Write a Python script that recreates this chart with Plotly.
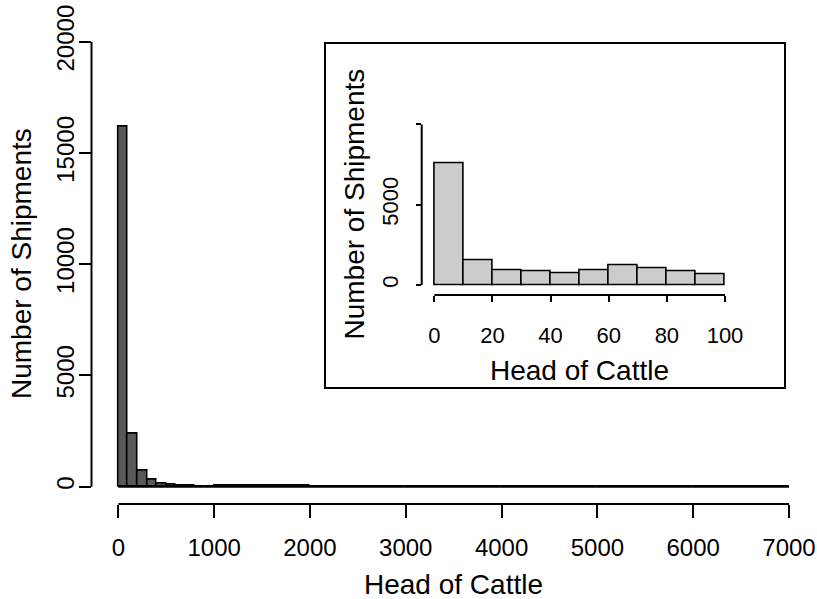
import plotly.graph_objects as go

# ---------------- data ----------------
main_edges = [0, 100, 200, 300, 400, 500, 600, 700, 800, 900, 1000, 2000, 3000, 4000, 5000, 6000, 7000]
main_counts = [16160, 2366, 729, 326, 134, 70, 45, 30, 20, 15, 60, 0, 0, 0, 0, 0]

inset_edges = [0, 10, 20, 30, 40, 50, 60, 70, 80, 90, 100]
inset_counts = [7545, 1550, 887, 825, 725, 887, 1220, 1033, 850, 663]

main_xticks = [0, 1000, 2000, 3000, 4000, 5000, 6000, 7000]
main_xtick_labels = ["0", "1000", "2000", "3000", "4000", "5000", "6000", "7000"]
main_yticks = [0, 5000, 10000, 15000, 20000]
main_ytick_labels = ["0", "5000", "10000", "15000", "20000"]
inset_xticks = [0, 20, 40, 60, 80, 100]
inset_xtick_labels = ["0", "20", "40", "60", "80", "100"]
inset_yticks = [0, 5000, 10000]
inset_ytick_labels = ["0", "5000", ""]

x_title = "Head of Cattle"
y_title = "Number of Shipments"

W, H = 817, 599
FONT = "Liberation Sans, Arial, sans-serif"


def mids(edges):
    return [(a + b) / 2 for a, b in zip(edges[:-1], edges[1:])]


def widths(edges):
    return [b - a for a, b in zip(edges[:-1], edges[1:])]


def px_x(p):
    return p / W


def px_y(p):
    return (H - p) / H


fig = go.Figure()

# main histogram
fig.add_trace(go.Bar(
    x=mids(main_edges), y=main_counts, width=widths(main_edges),
    marker=dict(color="#595959", line=dict(color="black", width=1.6)),
    xaxis="x", yaxis="y", showlegend=False, hoverinfo="x+y"))
# zero-height bins are drawn as a line along the baseline (as R does)
fig.add_trace(go.Scatter(
    x=[main_edges[0], main_edges[-1]], y=[0, 0], mode="lines",
    line=dict(color="black", width=2), xaxis="x", yaxis="y",
    showlegend=False, hoverinfo="skip"))

# inset histogram
fig.add_trace(go.Bar(
    x=mids(inset_edges), y=inset_counts, width=widths(inset_edges),
    marker=dict(color="#cccccc", line=dict(color="black", width=1.6)),
    xaxis="x2", yaxis="y2", showlegend=False, hoverinfo="x+y"))

tickfont_main = dict(family=FONT, size=24, color="black")
tickfont_inset = dict(family=FONT, size=22, color="black")

common = dict(showgrid=False, zeroline=False, showline=False, automargin=False,
              tickmode="array", ticks="outside", tickwidth=2, tickcolor="black",
              fixedrange=True)

fig.update_layout(
    template="none",
    width=W, height=H,
    margin=dict(l=0, r=0, t=0, b=0, pad=0),
    paper_bgcolor="white", plot_bgcolor="rgba(0,0,0,0)",
    bargap=0,
    font=dict(family=FONT, color="black"),
    xaxis=dict(domain=[px_x(91.5), px_x(789)], range=[-280, 7000], anchor="y",
               tickvals=main_xticks, ticktext=main_xtick_labels, ticklen=13,
               tickfont=tickfont_main, ticklabelstandoff=9, **common),
    yaxis=dict(domain=[px_y(504), px_y(41.7)], range=[-780, 20000], anchor="x",
               tickvals=main_yticks, ticktext=main_ytick_labels, ticklen=12,
               tickangle=-90, tickfont=tickfont_main, ticklabelstandoff=-5, **common),
    xaxis2=dict(domain=[px_x(421.7), px_x(725)], range=[-4.33, 100], anchor="y2",
                tickvals=inset_xticks, ticktext=inset_xtick_labels, ticklen=6,
                tickfont=tickfont_inset, ticklabelstandoff=15, **common),
    yaxis2=dict(domain=[px_y(295), px_y(124.3)], range=[-622, 10000], anchor="x2",
                tickvals=inset_yticks, ticktext=inset_ytick_labels, ticklen=5,
                tickangle=-90, tickfont=tickfont_inset, ticklabelstandoff=9, **common),
)

shapes = [
    # inset box
    dict(type="rect", xref="paper", yref="paper",
         x0=px_x(325), x1=px_x(785), y0=px_y(388), y1=px_y(43),
         line=dict(color="black", width=2), fillcolor="white", layer="below"),
    # main axis lines (span only the tick range, R style)
    dict(type="line", xref="x domain", yref="y", x0=0, x1=0,
         y0=main_yticks[0], y1=main_yticks[-1], line=dict(color="black", width=2)),
    dict(type="line", xref="x", yref="y domain", y0=0, y1=0,
         x0=main_xticks[0], x1=main_xticks[-1], line=dict(color="black", width=2)),
    # inset axis lines
    dict(type="line", xref="x2 domain", yref="y2", x0=0, x1=0,
         y0=inset_yticks[0], y1=inset_yticks[-1], line=dict(color="black", width=2)),
    dict(type="line", xref="x2", yref="y2 domain", y0=0, y1=0,
         x0=inset_xticks[0], x1=inset_xticks[-1], line=dict(color="black", width=2)),
]
fig.update_layout(shapes=shapes)

title_font = dict(family=FONT, size=28, color="black")
annotations = [
    dict(text=x_title, xref="paper", yref="paper", x=px_x(453.5), y=px_y(584),
         xanchor="center", yanchor="middle", showarrow=False, font=title_font),
    dict(text=y_title, xref="paper", yref="paper", x=px_x(21), y=px_y(264),
         xanchor="center", yanchor="middle", textangle=-90, showarrow=False, font=title_font),
    dict(text=x_title, xref="paper", yref="paper", x=px_x(579), y=px_y(370.5),
         xanchor="center", yanchor="middle", showarrow=False, font=title_font),
    dict(text=y_title, xref="paper", yref="paper", x=px_x(354), y=px_y(204.5),
         xanchor="center", yanchor="middle", textangle=-90, showarrow=False, font=title_font),
]
fig.update_layout(annotations=annotations)

fig.write_html("out.html")
